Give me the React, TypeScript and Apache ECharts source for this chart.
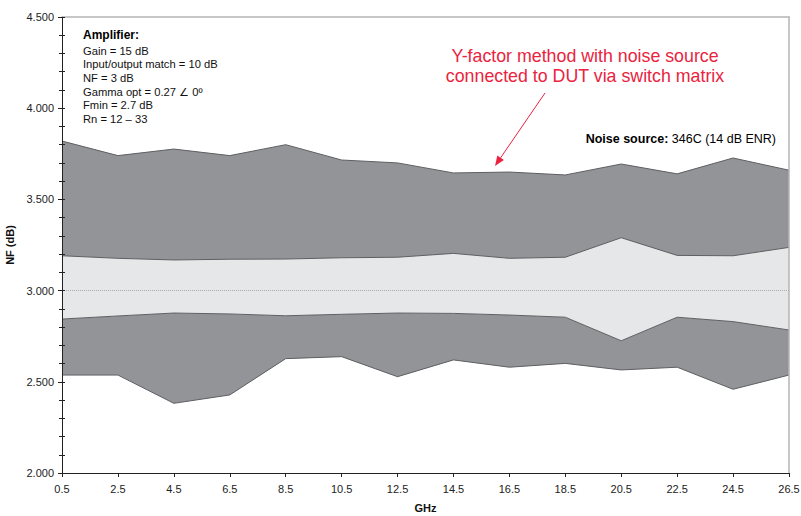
import React, { useEffect, useRef } from "react";
import * as echarts from "echarts";

const freqs = ["0.5", "2.5", "4.5", "6.5", "8.5", "10.5", "12.5", "14.5", "16.5", "18.5", "20.5", "22.5", "24.5", "26.5"];
const upperOuter = [3.82, 3.74, 3.776, 3.74, 3.8, 3.716, 3.7, 3.645, 3.65, 3.634, 3.694, 3.64, 3.727, 3.66];
const upperInner = [3.191, 3.177, 3.168, 3.172, 3.173, 3.18, 3.183, 3.204, 3.177, 3.183, 3.29, 3.193, 3.191, 3.237];
const lowerInner = [2.844, 2.861, 2.877, 2.872, 2.862, 2.87, 2.877, 2.875, 2.866, 2.854, 2.725, 2.854, 2.83, 2.784];
const lowerOuter = [2.537, 2.537, 2.382, 2.428, 2.627, 2.638, 2.528, 2.62, 2.58, 2.601, 2.565, 2.58, 2.459, 2.537];

const yMin = 2;
const yMax = 4.5;
const yStep = 0.5;

const amplifierLines = [
  "Gain = 15 dB",
  "Input/output match = 10 dB",
  "NF = 3 dB",
  "Gamma opt = 0.27 \u2220 0\u00ba",
  "Fmin = 2.7 dB",
  "Rn = 12 \u2013 33",
];

const FONT = "'Liberation Sans', Arial, Helvetica, sans-serif";
const DARK = "#939498";
const LIGHT = "#e6e7e9";
const EDGE = "#5e5f62";
const RED = "#ea2340";

const diff = (a: number[], b: number[]) => a.map((v, i) => +(v - b[i]).toFixed(4));

export default function App() {
  const ref = useRef<HTMLDivElement>(null);

  useEffect(() => {
    if (!ref.current) return;
    const chart = echarts.init(ref.current, null, { renderer: "svg" });

    const edgeLine = { color: EDGE, width: 1 };

    const graphics: any[] = [
      {
        type: "text",
        left: 83,
        top: 29,
        style: { text: "Amplifier:", font: `bold 12px ${FONT}`, fill: "#000" },
      },
      ...amplifierLines.map((t, i) => ({
        type: "text",
        left: 83,
        top: 45 + i * 13.7,
        style: { text: t, font: `11.2px ${FONT}`, fill: "#111" },
      })),
      {
        type: "text",
        x: 585,
        y: 56,
        style: {
          text: "Y-factor method with noise source",
          font: `17.8px ${FONT}`,
          fill: RED,
          align: "center",
          verticalAlign: "middle",
        },
      },
      {
        type: "text",
        x: 585,
        y: 75.5,
        style: {
          text: "connected to DUT via switch matrix",
          font: `17.8px ${FONT}`,
          fill: RED,
          align: "center",
          verticalAlign: "middle",
        },
      },
      {
        type: "line",
        shape: { x1: 545, y1: 93, x2: 500.6, y2: 157.8 },
        style: { stroke: RED, lineWidth: 1 },
      },
      {
        type: "polygon",
        shape: { points: [[495, 166], [503.9, 160.0], [497.3, 155.5]] },
        style: { fill: RED },
      },
      {
        type: "text",
        x: 776,
        y: 139,
        style: {
          text: "{b|Noise source:} 346C (14 dB ENR)",
          font: `12.5px ${FONT}`,
          fill: "#000",
          align: "right",
          verticalAlign: "middle",
          rich: { b: { font: `bold 12.5px ${FONT}`, fill: "#000" } },
        },
      },
      {
        type: "text",
        x: 391,
        y: 271,
        style: {
          text: "PNA-X",
          font: `16px ${FONT}`,
          fill: "#58595b",
          align: "center",
          verticalAlign: "middle",
        },
      },
    ];

    chart.setOption({
      animation: false,
      grid: { left: 62, right: 12, top: 17, bottom: 43, containLabel: false, outerBoundsMode: "none" },
      xAxis: [
        {
          type: "category",
          data: freqs,
          boundaryGap: false,
          z: 5,
          name: "GHz",
          nameLocation: "middle",
          nameGap: 29,
          nameTextStyle: { fontFamily: FONT, fontSize: 11, fontWeight: "bold", color: "#111" },
          axisLine: { show: true, lineStyle: { color: "#222", width: 1 } },
          axisTick: { show: true, length: 4, lineStyle: { color: "#222" }, alignWithLabel: true },
          axisLabel: { fontFamily: FONT, fontSize: 11, color: "#222", margin: 10, interval: 0 },
          splitLine: { show: false },
        },
        {
          type: "category",
          data: freqs,
          boundaryGap: false,
          position: "top",
          z: 5,
          axisLine: { show: true, lineStyle: { color: "#b5b5b5", width: 1.5 } },
          axisTick: { show: false },
          axisLabel: { show: false },
          splitLine: { show: false },
        },
      ],
      yAxis: [
        {
          type: "value",
          min: yMin,
          max: yMax,
          interval: yStep,
          z: 5,
          name: "NF (dB)",
          nameLocation: "middle",
          nameGap: 41,
          nameRotate: 90,
          nameTextStyle: { fontFamily: FONT, fontSize: 11, fontWeight: "bold", color: "#111" },
          axisLine: { show: true, lineStyle: { color: "#222", width: 1 } },
          axisTick: { show: true, length: 4, lineStyle: { color: "#222" } },
          minorTick: { show: true, splitNumber: 5, length: 3, lineStyle: { color: "#222" } },
          axisLabel: {
            fontFamily: FONT,
            fontSize: 11,
            color: "#222",
            margin: 8,
            formatter: (v: number) => v.toFixed(3),
          },
          splitLine: { show: false },
          minorSplitLine: { show: false },
        },
        {
          type: "value",
          min: yMin,
          max: yMax,
          interval: yStep,
          position: "left",
          z: 5,
          axisLine: { show: false },
          axisTick: { show: true, inside: true, length: 3, lineStyle: { color: "#222" } },
          minorTick: { show: true, splitNumber: 5, length: 3, lineStyle: { color: "#222" } },
          axisLabel: { show: false },
          splitLine: { show: false },
        },
        {
          type: "value",
          min: yMin,
          max: yMax,
          interval: yStep,
          position: "right",
          z: 5,
          axisLine: { show: true, lineStyle: { color: "#b5b5b5", width: 1.5 } },
          axisTick: { show: false },
          axisLabel: { show: false },
          splitLine: { show: false },
        },
      ],
      series: [
        {
          type: "line",
          stack: "nf",
          data: lowerOuter,
          symbol: "none",
          lineStyle: edgeLine,
          silent: true,
        },
        {
          type: "line",
          stack: "nf",
          data: diff(lowerInner, lowerOuter),
          symbol: "none",
          lineStyle: edgeLine,
          areaStyle: { color: DARK, opacity: 1 },
          silent: true,
        },
        {
          type: "line",
          stack: "nf",
          data: diff(upperInner, lowerInner),
          symbol: "none",
          lineStyle: edgeLine,
          areaStyle: { color: LIGHT, opacity: 1 },
          silent: true,
          markLine: {
            silent: true,
            symbol: "none",
            label: { show: false },
            lineStyle: { color: "#a9aaad", type: "dotted", width: 1 },
            data: [{ yAxis: 3 }],
          },
        },
        {
          type: "line",
          stack: "nf",
          data: diff(upperOuter, upperInner),
          symbol: "none",
          lineStyle: edgeLine,
          areaStyle: { color: DARK, opacity: 1 },
          silent: true,
        },
      ],
      graphic: graphics,
    });

    return () => chart.dispose();
  }, []);

  return (
    <div
      ref={ref}
      style={{ position: "fixed", left: 0, top: 0, width: 801, height: 516, background: "#fff" }}
    />
  );
}
